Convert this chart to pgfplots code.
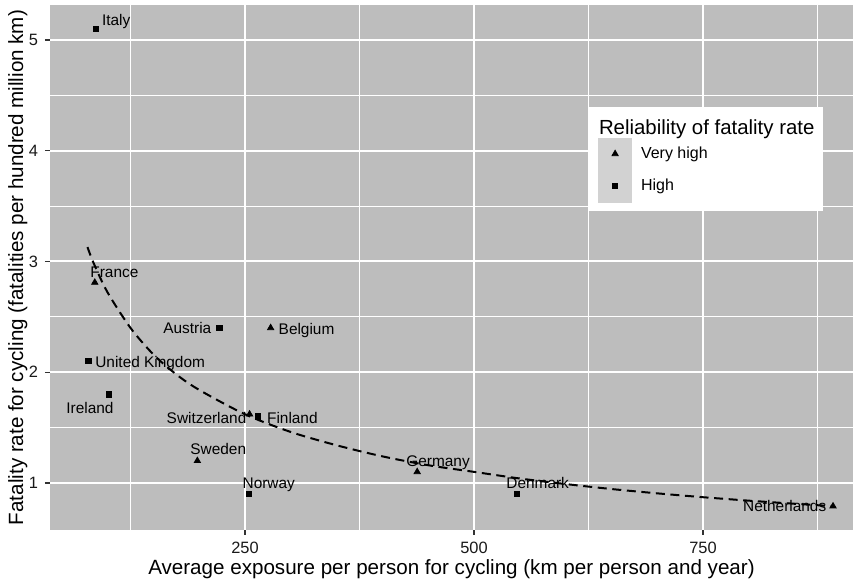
\documentclass[border=0pt]{standalone}
\usepackage{fontspec}
\setmainfont{Liberation Sans}
\usepackage{pgfplots}
\pgfplotsset{compat=1.18}
\definecolor{panelbg}{RGB}{189,189,189}
\definecolor{keybg}{RGB}{210,210,210}
\definecolor{tickgray}{RGB}{51,51,51}
\begin{document}
\begin{tikzpicture}
\begin{axis}[
  name=ax,
  scale only axis, width=401.5pt, height=262.5pt,
  xmin=37.1, xmax=913.8, ymin=0.575, ymax=5.316,
  axis background/.style={fill=panelbg},
  axis line style={draw=none},
  xtick={250,500,750}, ytick={1,2,3,4,5},
  minor xtick={125,375,625,875}, minor ytick={1.5,2.5,3.5,4.5},
  grid=both,
  major grid style={white, line width=1pt},
  minor grid style={white, line width=0.5pt},
  tick align=outside, tick pos=left,
  major tick length=2.5pt, minor tick length=0pt,
  every tick/.style={tickgray, line width=0.6pt},
  /pgf/number format/assume math mode=true,
  ticklabel style={font=\fontsize{8.2}{9}\selectfont, text=black!90},
  xlabel={Average exposure per person for cycling (km per person and year)},
  ylabel={Fatality rate for cycling (fatalities per hundred million km)},
  every axis x label/.style={at={(axis description cs:0.5,-0.0857)}, anchor=base, font=\fontsize{10.3}{12}\selectfont},
  every axis y label/.style={at={(axis description cs:-0.0336,0.5)}, rotate=90, anchor=base, font=\fontsize{10.3}{12}\selectfont},
  legend style={at={(rel axis cs:0.671,0.806)}, anchor=north west,
    fill=white, draw=none, inner sep=4.5pt, row sep=0pt, column sep=4.5pt,
    font=\fontsize{8}{9.6}\selectfont, nodes={inner sep=0pt}},
  legend cell align=left,
  legend image code/.code={\fill[keybg] (0pt,-7.875pt) rectangle (16.5pt,7.875pt);
    \draw[#1] plot coordinates {(8.25pt,0pt)};},
]
\addlegendimage{empty legend}
\addlegendentry{\hspace{-21pt}\raisebox{0pt}[9.25pt][5.75pt]{\fontsize{10.2}{12}\selectfont Reliability of fatality rate}}

\addplot[black, dash pattern=on 4.5pt off 2.8pt, line width=1pt, smooth, forget plot] coordinates {
(78,3.13)(85,2.98)(100,2.72)(125,2.40)(150,2.16)(175,1.98)(200,1.84)(250,1.62)
(300,1.46)(350,1.34)(400,1.24)(450,1.16)(500,1.10)(550,1.04)(600,0.99)(650,0.945)
(700,0.906)(750,0.871)(800,0.840)(850,0.812)(892,0.79)};

\addplot[only marks, mark=triangle*, mark size=1.8pt, black] coordinates {
(86,2.81)(278,2.40)(255,1.62)(198,1.20)(438,1.10)(892,0.79)};
\addlegendentry{Very high}

\addplot[only marks, mark=square*, mark size=1.35pt, black] coordinates {
(87,5.10)(222,2.40)(79,2.10)(101.5,1.80)(264,1.60)(254,0.90)(547,0.90)};
\addlegendentry{High}

\begin{scope}[every node/.style={font=\fontsize{7.7}{9}\selectfont, inner sep=0pt, text=black}]
\node[anchor=base west] at (axis cs:93.5,5.128) {Italy};
\node[anchor=base west] at (axis cs:80.8,2.855) {France};
\node[anchor=base east] at (axis cs:213.6,2.346) {Austria};
\node[anchor=base west] at (axis cs:286.4,2.337) {Belgium};
\node[anchor=base west] at (axis cs:86.2,2.04) {United Kingdom};
\node[anchor=base west] at (axis cs:54.6,1.63) {Ireland};
\node[anchor=base east] at (axis cs:251.9,1.54) {Switzerland};
\node[anchor=base west] at (axis cs:273.7,1.54) {Finland};
\node[anchor=base west] at (axis cs:190,1.26) {Sweden};
\node[anchor=base west] at (axis cs:247,0.952) {Norway};
\node[anchor=base west] at (axis cs:425.8,1.147) {Germany};
\node[anchor=base west] at (axis cs:535,0.952) {Denmark};
\node[anchor=base east] at (axis cs:885,0.741) {Netherlands};
\end{scope}
\end{axis}
\pgfresetboundingbox
\path ([xshift=-25pt,yshift=-26pt]ax.south west) rectangle ([xshift=4.5pt,yshift=2.5pt]ax.north east);
\end{tikzpicture}
\end{document}
